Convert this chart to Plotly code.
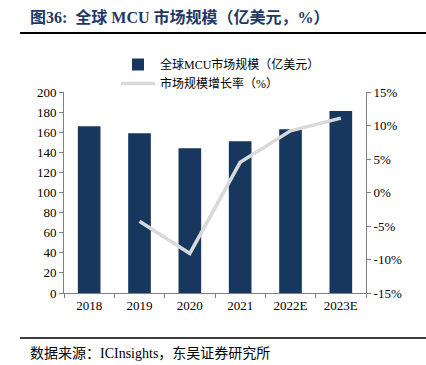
import plotly.graph_objects as go

categories = ["2018", "2019", "2020", "2021", "2022E", "2023E"]
market_size = [166, 159, 144, 151, 163, 181]
growth_cats = ["2019", "2020", "2021", "2022E", "2023E"]
growth_pct = [-4.3, -9.1, 4.5, 9.2, 11.1]
left_ticks = list(range(0, 201, 20))
right_ticks = [-15, -10, -5, 0, 5, 10, 15]
right_labels = [f"{v}%" for v in right_ticks]

FONT = "Liberation Serif, Times New Roman, Noto Sans CJK SC, serif"
NAVY = "#17375E"

W, H = 426, 365
ML, MR, MT, MB = 64, 60, 92, 72
pw = W - ML - MR
ph = H - MT - MB

def px_x(x):
    return (x - ML) / pw

def px_y(y):
    return 1 - (y - MT) / ph

fig = go.Figure()
fig.add_trace(go.Bar(x=categories, y=market_size, name="全球MCU市场规模（亿美元）",
                     marker=dict(color=NAVY, line=dict(width=0)), yaxis="y"))
fig.add_trace(go.Scatter(x=growth_cats, y=growth_pct, name="市场规模增长率（%）",
                         mode="lines", line=dict(color="#D9D9D9", width=3.5), yaxis="y2"))

fig.update_layout(
    width=W, height=H,
    margin=dict(l=ML, r=MR, t=MT, b=MB, autoexpand=False),
    paper_bgcolor="white", plot_bgcolor="white",
    font=dict(family=FONT, size=13, color="#000000"),
    bargap=0.55,
    showlegend=True,
    legend=dict(x=px_x(116), y=px_y(50), xref="paper", yref="paper", xanchor="left", yanchor="top",
                orientation="v", font=dict(size=12, family=FONT),
                bgcolor="rgba(0,0,0,0)", tracegroupgap=0, itemwidth=34, traceorder="normal"),
    xaxis=dict(type="category", showline=True, linecolor="#808080", linewidth=1,
               ticks="outside", tickson="boundaries", ticklen=4, tickcolor="#808080",
               showgrid=False, tickfont=dict(size=13)),
    yaxis=dict(range=[0, 200], tickvals=left_ticks, showline=True, linecolor="#808080",
               linewidth=1, ticks="outside", ticklen=4, tickcolor="#808080",
               showgrid=False, zeroline=False, tickfont=dict(size=13)),
    yaxis2=dict(range=[-15, 15], tickvals=right_ticks, ticktext=right_labels, overlaying="y",
                side="right", showline=True, linecolor="#808080", linewidth=1,
                ticks="outside", ticklen=4, tickcolor="#808080", showgrid=False,
                zeroline=False, tickfont=dict(size=13)),
    annotations=[
        dict(text="<b>图36:  全球 MCU 市场规模（亿美元，%）</b>", x=px_x(28), y=px_y(17),
             xref="paper", yref="paper", showarrow=False, xanchor="left", yanchor="middle",
             font=dict(size=16, color="#1F3864", family=FONT)),
        dict(text="数据来源：ICInsights，东吴证券研究所", x=px_x(28), y=px_y(353),
             xref="paper", yref="paper", showarrow=False,
             xanchor="left", yanchor="middle", font=dict(size=14, color="#000000", family=FONT)),
    ],
)

def hline(ypix, x0pix, x1pix, width, color):
    fig.add_shape(type="line", xref="paper", yref="paper",
                  x0=px_x(x0pix), x1=px_x(x1pix), y0=px_y(ypix), y1=px_y(ypix),
                  line=dict(color=color, width=width))

hline(33, 20, 426, 2, "#000000")
hline(338, 20, 426, 1.5, "#000000")

fig.write_html("out.html", config={"displayModeBar": False},
               post_script="document.body.style.margin='0';document.body.style.overflow='hidden';")
